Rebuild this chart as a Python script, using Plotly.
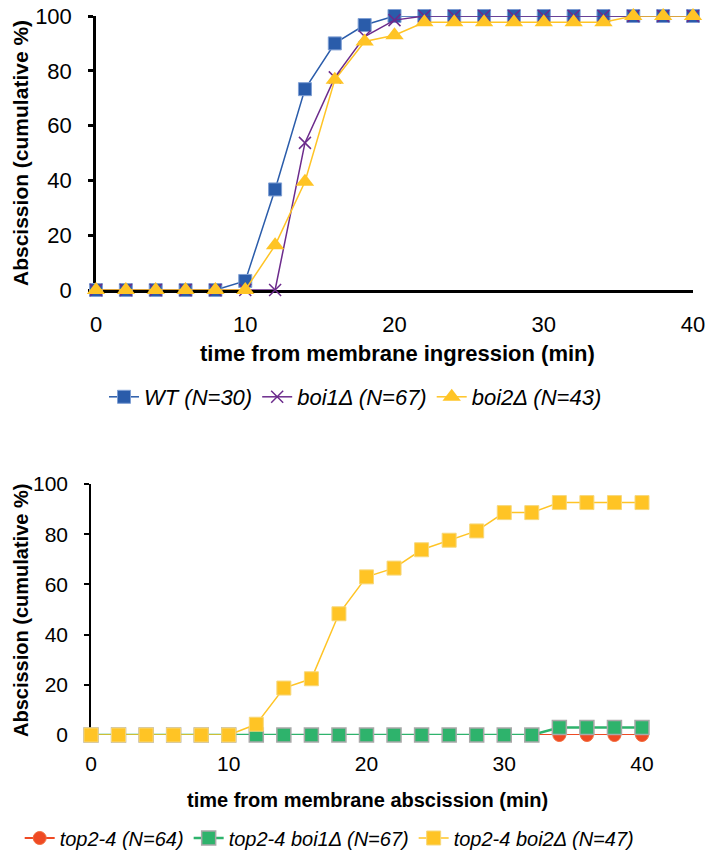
import plotly.graph_objects as go

# ---------------- data ----------------
time_min = [0, 2, 4, 6, 8, 10, 12, 14, 16, 18, 20, 22, 24, 26, 28, 30, 32, 34, 36, 38, 40]

wt = [0, 0, 0, 0, 0, 3.3, 36.7, 73.3, 90.0, 96.7, 100, 100, 100, 100, 100, 100, 100, 100, 100, 100, 100]
boi1 = [0, 0, 0, 0, 0, 0, 0, 53.7, 77.6, 92.5, 98.5, 100, 100, 100, 100, 100, 100, 100, 100, 100, 100]
boi2 = [0, 0, 0, 0, 0, 0, 16.3, 39.5, 76.7, 90.7, 93.0, 97.7, 97.7, 97.7, 97.7, 97.7, 97.7, 97.7, 100, 100, 100]

top2 = [0] * 21
top2_boi1 = [0, 0, 0, 0, 0, 0, 0, 0, 0, 0, 0, 0, 0, 0, 0, 0, 0, 3.0, 3.0, 3.0, 3.0]
top2_boi2 = [0, 0, 0, 0, 0, 0, 4.3, 18.7, 22.4, 48.3, 63.0, 66.5, 73.8, 77.6, 81.3, 88.6, 88.6, 92.6, 92.6, 92.6, 92.6]

names_top = ["WT (N=30)", "boi1\u0394 (N=67)", "boi2\u0394 (N=43)"]
names_bot = ["top2-4 (N=64)", "top2-4 boi1\u0394 (N=67)", "top2-4 boi2\u0394 (N=47)"]

y_ticks = [0, 20, 40, 60, 80, 100]
x_ticks = [0, 10, 20, 30, 40]

W, H = 711, 856
FONT = "Arial, Liberation Sans, sans-serif"

BLUE = "#2A5CAA"
PURPLE = "#6C2B8C"
YELLOW = "#FFC425"
RED = "#EF4A24"
GREEN = "#2EB36C"

fig = go.Figure()

# ---------------- top chart ----------------
fig.add_trace(go.Scatter(
    x=time_min, y=wt, name=names_top[0], mode="lines+markers",
    line=dict(color=BLUE, width=1.5),
    marker=dict(symbol="square", size=13, color=BLUE, line=dict(color="#7F9FD4", width=1)),
    cliponaxis=False, xaxis="x", yaxis="y", legend="legend"))
fig.add_trace(go.Scatter(
    x=time_min, y=boi1, name=names_top[1], mode="lines+markers",
    line=dict(color=PURPLE, width=1.5),
    marker=dict(symbol="x-thin", size=12, color=PURPLE, line=dict(color=PURPLE, width=1.5)),
    cliponaxis=False, xaxis="x", yaxis="y", legend="legend"))
fig.add_trace(go.Scatter(
    x=time_min, y=boi2, name=names_top[2], mode="lines+markers",
    line=dict(color=YELLOW, width=1.5),
    marker=dict(symbol="triangle-up", size=16, color=YELLOW, line=dict(color=YELLOW, width=0)),
    cliponaxis=False, xaxis="x", yaxis="y", legend="legend"))

# ---------------- bottom chart ----------------
fig.add_trace(go.Scatter(
    x=time_min, y=top2, name=names_bot[0], mode="lines+markers",
    line=dict(color=RED, width=2),
    marker=dict(symbol="circle", size=13, color=RED, line=dict(color="#F26B3A", width=1)),
    cliponaxis=False, xaxis="x2", yaxis="y2", legend="legend2"))
fig.add_trace(go.Scatter(
    x=time_min, y=top2_boi1, name=names_bot[1], mode="lines+markers",
    line=dict(color=GREEN, width=2.5),
    marker=dict(symbol="square", size=14, color=GREEN, line=dict(color="#A8A8A8", width=1.5)),
    cliponaxis=False, xaxis="x2", yaxis="y2", legend="legend2"))
fig.add_trace(go.Scatter(
    x=time_min, y=top2_boi2, name=names_bot[2], mode="lines+markers",
    line=dict(color=YELLOW, width=1.5),
    marker=dict(symbol="square", size=14, color=YELLOW, line=dict(color="#F7D87C", width=1)),
    cliponaxis=False, xaxis="x2", yaxis="y2", legend="legend2"))


def px_x(p):
    return p / W


def px_y(p):
    return 1 - p / H


common_x = dict(range=[0, 40], tickvals=x_ticks, showgrid=False, zeroline=False, automargin=False,
                ticks="", layer="below traces", tickfont=dict(family=FONT, color="black"))
common_y = dict(range=[0, 100], tickvals=y_ticks, showgrid=False, zeroline=False, automargin=False,
                ticks="outside", ticklen=5, tickcolor="black", layer="below traces",
                showline=True, linecolor="black", tickfont=dict(family=FONT, color="black"))

fig.update_layout(
    width=W, height=H,
    margin=dict(l=0, r=0, t=0, b=0, autoexpand=False),
    paper_bgcolor="white", plot_bgcolor="white",
    font=dict(family=FONT, color="black"),
    xaxis=dict(common_x, domain=[px_x(96), px_x(693)], anchor="y",
               showline=True, linecolor="black", linewidth=2.5,
               tickfont=dict(family=FONT, size=22, color="black"), ticklabelstandoff=13),
    yaxis=dict(common_y, domain=[px_y(290), px_y(16)], anchor="x",
               linewidth=2.5, tickwidth=2.5,
               tickfont=dict(family=FONT, size=22, color="black"), ticklabelstandoff=12),
    xaxis2=dict(common_x, domain=[px_x(91), px_x(642)], anchor="y2",
                showline=False,
                tickfont=dict(family=FONT, size=21, color="black"), ticklabelstandoff=14),
    yaxis2=dict(common_y, domain=[px_y(735), px_y(484)], anchor="x2",
                linewidth=1.5, tickwidth=1.5,
                tickfont=dict(family=FONT, size=21, color="black"), ticklabelstandoff=12),
    legend=dict(orientation="h", x=0.5, xanchor="center", y=px_y(397), yanchor="middle",
                font=dict(family=FONT, size=22, color="black", style="italic"),
                bgcolor="rgba(0,0,0,0)", itemwidth=30, traceorder="normal"),
    legend2=dict(orientation="h", x=0.463, xanchor="center", y=px_y(838), yanchor="middle",
                 font=dict(family=FONT, size=20, color="black", style="italic"),
                 bgcolor="rgba(0,0,0,0)", itemwidth=30, traceorder="normal"),
    annotations=[
        dict(text="<b>Abscission (cumulative %)</b>", textangle=-90, showarrow=False,
             xref="paper", yref="paper", x=px_x(21), y=px_y(153),
             xanchor="center", yanchor="middle", font=dict(family=FONT, size=21, color="black")),
        dict(text="<b>time from membrane ingression (min)</b>", showarrow=False,
             xref="paper", yref="paper", x=px_x(397), y=px_y(353),
             xanchor="center", yanchor="middle", font=dict(family=FONT, size=22, color="black")),
        dict(text="<b>Abscission (cumulative %)</b>", textangle=-90, showarrow=False,
             xref="paper", yref="paper", x=px_x(21), y=px_y(611),
             xanchor="center", yanchor="middle", font=dict(family=FONT, size=20, color="black")),
        dict(text="<b>time from membrane abscission (min)</b>", showarrow=False,
             xref="paper", yref="paper", x=px_x(367), y=px_y(800),
             xanchor="center", yanchor="middle", font=dict(family=FONT, size=20, color="black")),
    ],
)

fig.write_html("out.html")
